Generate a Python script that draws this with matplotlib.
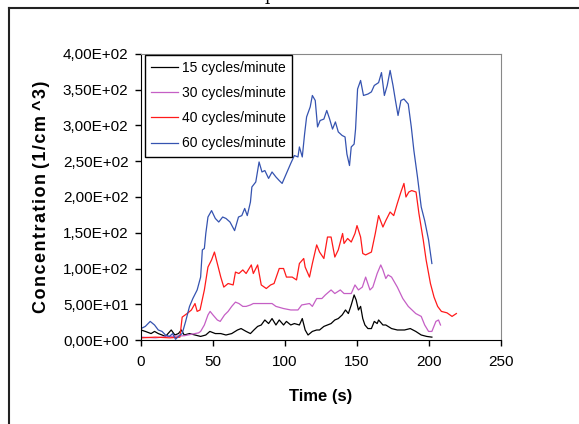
import matplotlib
matplotlib.use("Agg")
import matplotlib.pyplot as plt
from matplotlib.lines import Line2D
from matplotlib.ticker import FuncFormatter

plt.rcParams['font.family'] = ['Liberation Sans', 'DejaVu Sans']

# values (time in s, concentration in 1/cm^3)
t15 = [0, 3, 7, 9.4, 12, 14.6, 17, 21, 23.5, 26, 28, 30, 33.7, 37.5, 41.4, 45, 47.8,
       51.6, 55.4, 59, 63, 67, 69.5, 73, 76, 78.4, 81, 83.5, 86, 88.6, 91, 93.7, 96, 99,
       101, 104, 106.5, 110, 112, 114, 116, 119, 122, 124, 127, 129.5, 132, 134.6, 137,
       139.7, 142, 144, 146, 148, 149.4, 151, 152.5, 154, 155.5, 157.6, 160, 162, 164,
       165, 168, 170, 174, 178, 183, 187, 190.8, 194.6, 198.4, 202]
c15 = [14, 12, 9, 12, 9, 7, 5, 14, 7, 9, 14, 7, 9, 7, 5, 7, 12,
       9, 9, 7, 9, 14, 16, 12, 9, 14, 19, 21, 28, 23, 30, 21, 28, 21,
       26, 21, 23, 21, 30, 14, 7, 12, 14, 14, 19, 21, 23, 28, 30,
       35, 42, 37, 49, 63, 56, 42, 47, 30, 21, 16, 16, 26, 23,
       28, 21, 21, 16, 14, 14, 16, 12, 7, 5, 4]

t30 = [0, 10, 20, 30, 35, 40, 41.4, 44, 46.5, 48, 50, 53, 55, 58, 60.5, 63, 65.6, 68,
       70.7, 73, 76, 78, 83.5, 91, 93.7, 99, 104, 109, 111.6, 117, 119, 122, 125.6, 128,
       132, 134.6, 138.4, 141, 146, 148.6, 151, 153.7, 156, 159, 161, 164, 166.5, 168,
       170, 171.6, 174, 178, 181.8, 185.6, 190.8, 194.6, 197, 199.7, 202, 204.8, 206.6, 208]
c30 = [4, 3, 5, 6, 8, 10, 12, 21, 35, 40, 35, 28, 26, 35, 40, 47, 53, 51,
       47, 47, 49, 51, 51, 51, 47, 44, 42, 42, 49, 51, 47, 58, 58, 63,
       70, 65, 70, 65, 65, 77, 70, 74, 88, 70, 74, 93, 105, 98,
       86, 91, 88, 74, 58, 47, 37, 33, 21, 12, 12, 26, 28, 21]

t40 = [0, 10, 20, 27, 28.6, 32, 35, 37.5, 39, 41, 44, 46.5, 49, 51, 53, 55.4, 57.5,
       60.5, 64, 65.6, 68, 70.7, 73, 76.6, 78, 81, 83.5, 87, 90, 92.4, 96, 99, 101, 105,
       108, 110, 113, 114, 117, 119, 122, 124, 127, 129.5, 132, 134.6, 137, 140, 141,
       143.5, 146, 148.6, 150, 152.5, 154, 156, 160, 162.7, 165, 168, 170, 173, 175.5,
       178, 180.5, 182.6, 184, 186, 188, 191, 193, 196, 198, 201, 203.5, 206, 208.6,
       212.5, 216, 219]
c40 = [3, 4, 3, 4, 32, 37, 42, 51, 40, 42, 70, 102, 112, 123, 107, 88, 74,
       79, 77, 95, 93, 98, 93, 105, 93, 105, 77, 72, 77, 79, 100, 100, 88, 88,
       84, 107, 114, 102, 88, 107, 133, 123, 114, 144, 144, 116, 126, 149, 135,
       142, 137, 149, 160, 144, 121, 119, 123, 149, 174, 158, 167, 179, 174,
       191, 207, 219, 200, 207, 209, 207, 177, 140, 112, 79, 60, 47, 40,
       38, 33, 37]

t60 = [0, 3, 6.4, 9.4, 12, 14.6, 17, 19.7, 22, 24, 26, 28.6, 31, 33.7, 36, 39, 41.4,
       42.6, 44, 45, 46.5, 49, 51.6, 54, 56.7, 59, 61.8, 65, 67.7, 70, 72, 73.8, 76, 77,
       79.7, 82, 84, 86, 88.6, 91, 93.7, 96, 98, 101, 104, 106.5, 109, 110, 112, 113.6,
       115, 117.5, 119, 121, 122.6, 124.4, 127, 129, 131, 133, 135, 137, 139.7, 141.7,
       143, 144.8, 146, 148, 149, 150.4, 152.5, 154.5, 157.6, 160, 162, 165, 167, 169,
       171, 173, 175, 176.7, 178.5, 180.5, 182.6, 185.6, 187.7, 189.5, 192, 194.6, 197,
       199.7, 202]
c60 = [16, 19, 26, 21, 14, 12, 7, 5, 9, 1, 5, 9, 26, 47, 58, 70, 88,
       126, 128, 149, 172, 181, 170, 165, 172, 170, 165, 153, 172, 174, 184, 174, 193, 214,
       221, 249, 235, 237, 226, 235, 228, 223, 219, 233, 247, 258, 256, 270, 256, 288,
       312, 326, 342, 335, 298, 307, 309, 321, 309, 295, 305, 291, 286, 284,
       260, 244, 270, 274, 295, 351, 363, 342, 344, 347, 356, 360, 374, 342,
       356, 377, 356, 335, 314, 335, 337, 330, 298, 265, 228, 186, 167,
       140, 107]

series = [
    (t15, c15, "15 cycles/minute", "black"),
    (t30, c30, "30 cycles/minute", "#c55fc5"),
    (t40, c40, "40 cycles/minute", "#ff1a1a"),
    (t60, c60, "60 cycles/minute", "#3553b0"),
]

fig = plt.figure(figsize=(5.79, 4.24), dpi=100)
ax = fig.add_axes([141 / 579, 84 / 424, 360 / 579, 286 / 424])

for t, c, lab, col in series:
    ax.plot(t, c, color=col, lw=0.9, label=lab)

ax.set_xlim(0, 250)
ax.set_ylim(0, 400)
ax.set_xticks(range(0, 251, 50))
ax.set_yticks(range(0, 401, 50))
ax.yaxis.set_major_formatter(FuncFormatter(lambda v, p: f"{v:.2E}".replace(".", ",")))
ax.tick_params(direction="out", length=4, width=1, labelsize=11, colors="black")
ax.tick_params(axis="x", pad=7)
ax.tick_params(axis="y", pad=5)

for s in ["top", "right"]:
    ax.spines[s].set_color("#888888")
for s in ["left", "bottom"]:
    ax.spines[s].set_color("black")

ax.set_xlabel("Time (s)", fontsize=12, fontweight="bold")
ax.xaxis.set_label_coords(0.5, -0.172)
hs = "\u200a"
ylab = " ".join(hs.join(w) for w in ["Concentration", "(1/cm", "^3)"])
ax.set_ylabel(ylab, fontsize=13, fontweight="bold")
ax.yaxis.set_label_coords(-0.253, 0.5)

leg = ax.legend(loc="upper left", bbox_to_anchor=(0.011, 0.997), borderaxespad=0,
                fontsize=10, handlelength=1.9, handletextpad=0.3, labelspacing=0.8,
                fancybox=False, framealpha=1, edgecolor="black", borderpad=0.45)
leg.get_frame().set_linewidth(1.0)

# outer page frame (only top and left edges visible)
fig.add_artist(Line2D([9 / 579, 1], [1 - 8 / 424, 1 - 8 / 424], color="#222222", lw=1.5))
fig.add_artist(Line2D([9 / 579, 9 / 579], [0, 1 - 8 / 424], color="#222222", lw=1.5))
fig.text(265 / 579, 1.0, "p", family="DejaVu Serif", fontsize=12, va="baseline")

fig.savefig("out.png", dpi=100)
